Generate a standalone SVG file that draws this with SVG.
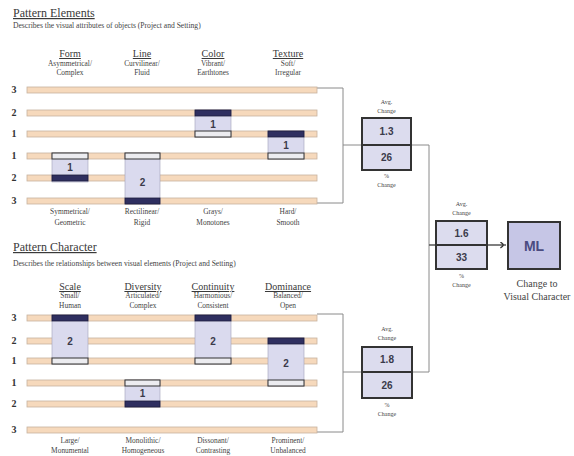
<svg xmlns="http://www.w3.org/2000/svg" width="574" height="456" viewBox="0 0 574 456">
<defs>
<style>
.ttl{font-family:"Liberation Serif",serif;font-size:12px;fill:#3a3a3a;text-decoration:underline}
.sub{font-family:"Liberation Serif",serif;font-size:7.6px;fill:#444}
.hd{font-family:"Liberation Serif",serif;font-size:10px;fill:#3a3a3a;text-anchor:middle;text-decoration:underline}
.st{font-family:"Liberation Serif",serif;font-size:7.4px;fill:#444;text-anchor:middle}
.sm{font-family:"Liberation Serif",serif;font-size:6px;fill:#444;text-anchor:middle}
.rl{font-family:"Liberation Serif",serif;font-size:10px;font-weight:bold;fill:#333;text-anchor:middle}
.num{font-family:"Liberation Sans",sans-serif;font-size:10px;font-weight:bold;fill:#3a3a4a;text-anchor:middle}
.bar{fill:#f6d9bc;stroke:#c7b29e;stroke-width:0.8}
.box{fill:#dadaee;stroke:#a0a0b8;stroke-width:0.6}
.dk{fill:#2f2f60;stroke:#1c1c3c;stroke-width:0.8}
.lt{fill:#ececf0;stroke:#333;stroke-width:1}
.sbox{fill:#dcdcee;stroke:#333;stroke-width:2}
.conn{fill:none;stroke:#8a8a8a;stroke-width:1}
</style>
<marker id="arr" viewBox="0 0 10 10" refX="9" refY="5" markerWidth="7" markerHeight="7" orient="auto" markerUnits="userSpaceOnUse">
<path d="M1,1 Q9,5 1,9" fill="none" stroke="#333" stroke-width="2"/>
</marker>
</defs>
<rect width="574" height="456" fill="#ffffff"/>

<g id="connectors">
<path class="conn" d="M317,88 H343 V203 H317"/>
<path class="conn" d="M317,314 H343 V432 H317"/>
<path class="conn" d="M343,145 H429 V372 H343"/>
<path d="M429,245 H506" fill="none" stroke="#555" stroke-width="1.6" marker-end="url(#arr)"/>
</g>

<g id="pattern-elements-title">
<text class="ttl" x="13" y="17">Pattern Elements</text>
<text class="sub" x="13" y="28">Describes the visual attributes of objects (Project and Setting)</text>
</g>

<g id="pe-bars">
<rect class="bar" x="27" y="87" width="290" height="6"/>
<rect class="bar" x="27" y="110" width="290" height="6"/>
<rect class="bar" x="27" y="131" width="290" height="6"/>
<rect class="bar" x="27" y="153" width="290" height="6"/>
<rect class="bar" x="27" y="175" width="290" height="6"/>
<rect class="bar" x="27" y="198" width="290" height="6"/>
<text class="rl" x="14" y="93">3</text>
<text class="rl" x="14" y="116">2</text>
<text class="rl" x="14" y="137">1</text>
<text class="rl" x="14" y="159">1</text>
<text class="rl" x="14" y="181">2</text>
<text class="rl" x="14" y="204">3</text>
</g>

<g id="form">
<text class="hd" x="70" y="57">Form</text>
<text class="st" x="70" y="66">Asymmetrical/</text>
<text class="st" x="70" y="75">Complex</text>
<rect class="box" x="52" y="153" width="36" height="29"/>
<rect class="lt" x="52" y="153" width="36" height="6"/>
<rect class="dk" x="52" y="175" width="36" height="6"/>
<text class="num" x="70" y="171">1</text>
<text class="st" x="70" y="214">Symmetrical/</text>
<text class="st" x="70" y="225">Geometric</text>
</g>

<g id="line">
<text class="hd" x="142" y="57">Line</text>
<text class="st" x="142" y="66">Curvilinear/</text>
<text class="st" x="142" y="75">Fluid</text>
<rect class="box" x="125" y="153" width="35" height="51"/>
<rect class="lt" x="125" y="153" width="35" height="6"/>
<rect class="dk" x="125" y="198" width="35" height="6"/>
<text class="num" x="142.5" y="186">2</text>
<text class="st" x="142" y="214">Rectilinear/</text>
<text class="st" x="142" y="225">Rigid</text>
</g>

<g id="color">
<text class="hd" x="213" y="57">Color</text>
<text class="st" x="213" y="66">Vibrant/</text>
<text class="st" x="213" y="75">Earthtones</text>
<rect class="box" x="195" y="110" width="36" height="27"/>
<rect class="dk" x="195" y="110" width="36" height="6"/>
<rect class="lt" x="195" y="131" width="36" height="6"/>
<text class="num" x="213" y="127.5">1</text>
<text class="st" x="213" y="214">Grays/</text>
<text class="st" x="213" y="225">Monotones</text>
</g>

<g id="texture">
<text class="hd" x="288" y="57">Texture</text>
<text class="st" x="288" y="66">Soft/</text>
<text class="st" x="288" y="75">Irregular</text>
<rect class="box" x="268" y="131" width="36" height="28"/>
<rect class="dk" x="268" y="131" width="36" height="6"/>
<rect class="lt" x="268" y="153" width="36" height="6"/>
<text class="num" x="286" y="149">1</text>
<text class="st" x="288" y="214">Hard/</text>
<text class="st" x="288" y="225">Smooth</text>
</g>

<g id="pattern-character-title">
<text class="ttl" x="13" y="251">Pattern Character</text>
<text class="sub" x="13" y="266">Describes the relationships between visual elements (Project and Setting)</text>
</g>

<g id="pc-bars">
<rect class="bar" x="27" y="315" width="290" height="6"/>
<rect class="bar" x="27" y="338" width="290" height="6"/>
<rect class="bar" x="27" y="358" width="290" height="6"/>
<rect class="bar" x="27" y="380" width="290" height="6"/>
<rect class="bar" x="27" y="401" width="290" height="6"/>
<rect class="bar" x="27" y="427" width="290" height="6"/>
<text class="rl" x="14" y="321">3</text>
<text class="rl" x="14" y="344">2</text>
<text class="rl" x="14" y="364">1</text>
<text class="rl" x="14" y="386">1</text>
<text class="rl" x="14" y="407">2</text>
<text class="rl" x="14" y="433">3</text>
</g>

<g id="scale">
<text class="hd" x="70" y="290">Scale</text>
<text class="st" x="70" y="298">Small/</text>
<text class="st" x="70" y="308">Human</text>
<rect class="box" x="52" y="315" width="36" height="49"/>
<rect class="dk" x="52" y="315" width="36" height="6"/>
<rect class="lt" x="52" y="358" width="36" height="6"/>
<text class="num" x="70" y="345">2</text>
<text class="st" x="70" y="443">Large/</text>
<text class="st" x="70" y="453">Monumental</text>
</g>

<g id="diversity">
<text class="hd" x="143" y="290">Diversity</text>
<text class="st" x="143" y="298">Articulated/</text>
<text class="st" x="143" y="308">Complex</text>
<rect class="box" x="125" y="380" width="35" height="27"/>
<rect class="lt" x="125" y="380" width="35" height="6"/>
<rect class="dk" x="125" y="401" width="35" height="6"/>
<text class="num" x="142.5" y="397">1</text>
<text class="st" x="143" y="443">Monolithic/</text>
<text class="st" x="143" y="453">Homogeneous</text>
</g>

<g id="continuity">
<text class="hd" x="213" y="290">Continuity</text>
<text class="st" x="213" y="298">Harmonious/</text>
<text class="st" x="213" y="308">Consistent</text>
<rect class="box" x="195" y="315" width="36" height="49"/>
<rect class="dk" x="195" y="315" width="36" height="6"/>
<rect class="lt" x="195" y="358" width="36" height="6"/>
<text class="num" x="213" y="345">2</text>
<text class="st" x="213" y="443">Dissonant/</text>
<text class="st" x="213" y="453">Contrasting</text>
</g>

<g id="dominance">
<text class="hd" x="288" y="290">Dominance</text>
<text class="st" x="288" y="298">Balanced/</text>
<text class="st" x="288" y="308">Open</text>
<rect class="box" x="268" y="338" width="36" height="48"/>
<rect class="dk" x="268" y="338" width="36" height="6"/>
<rect class="lt" x="268" y="380" width="36" height="6"/>
<text class="num" x="286" y="367">2</text>
<text class="st" x="288" y="443">Prominent/</text>
<text class="st" x="288" y="453">Unbalanced</text>
</g>

<g id="summary-elements">
<text class="sm" x="386.5" y="104">Avg.</text>
<text class="sm" x="386.5" y="113">Change</text>
<rect class="sbox" x="362" y="118" width="49" height="52"/>
<line x1="362" y1="145" x2="411" y2="145" stroke="#333" stroke-width="2"/>
<text class="num" x="386.5" y="135">1.3</text>
<text class="num" x="386.5" y="161">26</text>
<text class="sm" x="386.5" y="178">%</text>
<text class="sm" x="386.5" y="187">Change</text>
</g>

<g id="summary-character">
<text class="sm" x="387" y="331">Avg.</text>
<text class="sm" x="387" y="340">Change</text>
<rect class="sbox" x="362" y="347" width="50" height="51"/>
<line x1="362" y1="372" x2="412" y2="372" stroke="#333" stroke-width="2"/>
<text class="num" x="387" y="363">1.8</text>
<text class="num" x="387" y="389">26</text>
<text class="sm" x="387" y="407">%</text>
<text class="sm" x="387" y="416">Change</text>
</g>

<g id="summary-total">
<text class="sm" x="461.5" y="206">Avg.</text>
<text class="sm" x="461.5" y="215">Change</text>
<rect class="sbox" x="436" y="221" width="51" height="48"/>
<line x1="436" y1="245" x2="487" y2="245" stroke="#333" stroke-width="2"/>
<text class="num" x="461.5" y="237">1.6</text>
<text class="num" x="461.5" y="261">33</text>
<text class="sm" x="461.5" y="278">%</text>
<text class="sm" x="461.5" y="287">Change</text>
</g>

<g id="ml">
<rect x="508" y="222" width="52" height="47" fill="#c6c6e6" stroke="#333" stroke-width="2"/>
<text x="534" y="251" font-family="Liberation Sans, sans-serif" font-size="14" font-weight="bold" fill="#4b4b80" text-anchor="middle">ML</text>
<text class="st" x="537" y="287" style="font-size:10px">Change to</text>
<text class="st" x="537" y="300" style="font-size:10px">Visual Character</text>
</g>
</svg>
